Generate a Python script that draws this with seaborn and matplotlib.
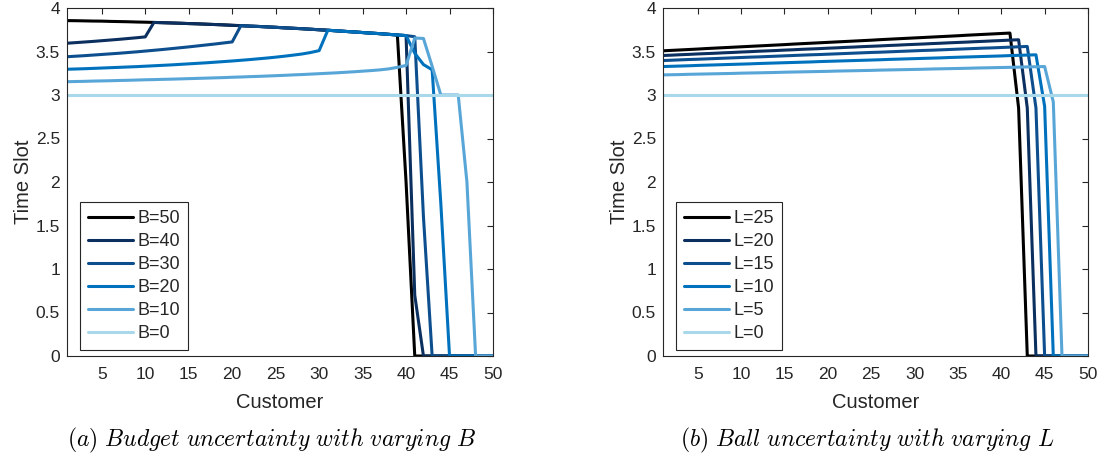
import numpy as np
import pandas as pd
import matplotlib
matplotlib.use("Agg")
import matplotlib.pyplot as plt
import seaborn as sns

customers = list(range(1, 51))

# ---------------- (a) Budget uncertainty ----------------
budget_labels = ["B=50", "B=40", "B=30", "B=20", "B=10", "B=0"]
b50 = [3.855, 3.854, 3.852, 3.850, 3.849, 3.846, 3.844, 3.842, 3.839, 3.837,
       3.834, 3.831, 3.828, 3.825, 3.821, 3.818, 3.814, 3.810, 3.806, 3.801,
       3.797, 3.792, 3.788, 3.783, 3.778, 3.772, 3.767, 3.762, 3.756, 3.750,
       3.744, 3.738, 3.731, 3.725, 3.718, 3.711, 3.705, 3.697, 3.690, 2.000,
       0, 0, 0, 0, 0, 0, 0, 0, 0, 0]
b40 = [3.595, 3.602, 3.609, 3.616, 3.624, 3.632, 3.640, 3.649, 3.658, 3.668,
       3.834, 3.831, 3.828, 3.825, 3.821, 3.818, 3.814, 3.810, 3.806, 3.801,
       3.797, 3.792, 3.788, 3.783, 3.778, 3.772, 3.767, 3.762, 3.756, 3.750,
       3.744, 3.738, 3.731, 3.725, 3.718, 3.711, 3.705, 3.697, 3.690, 3.683,
       0.700, 0, 0, 0, 0, 0, 0, 0, 0, 0]
b30 = [3.440, 3.446, 3.452, 3.459, 3.466, 3.473, 3.480, 3.488, 3.496, 3.505,
       3.514, 3.523, 3.533, 3.543, 3.553, 3.564, 3.575, 3.586, 3.598, 3.610,
       3.797, 3.792, 3.788, 3.783, 3.778, 3.772, 3.767, 3.762, 3.756, 3.750,
       3.744, 3.738, 3.731, 3.725, 3.718, 3.711, 3.705, 3.697, 3.690, 3.683,
       3.670, 1.600, 0, 0, 0, 0, 0, 0, 0, 0]
b20 = [3.296, 3.299, 3.302, 3.306, 3.310, 3.314, 3.318, 3.322, 3.326, 3.331,
       3.336, 3.341, 3.346, 3.352, 3.358, 3.364, 3.370, 3.377, 3.384, 3.391,
       3.399, 3.407, 3.416, 3.425, 3.435, 3.446, 3.458, 3.471, 3.488, 3.510,
       3.744, 3.738, 3.731, 3.725, 3.718, 3.711, 3.705, 3.697, 3.690, 3.683,
       3.480, 3.350, 3.290, 1.750, 0, 0, 0, 0, 0, 0]
b10 = [3.153, 3.155, 3.157, 3.160, 3.162, 3.164, 3.167, 3.169, 3.172, 3.175,
       3.177, 3.180, 3.182, 3.185, 3.188, 3.191, 3.194, 3.197, 3.200, 3.204,
       3.207, 3.211, 3.214, 3.218, 3.222, 3.226, 3.231, 3.235, 3.240, 3.245,
       3.250, 3.255, 3.261, 3.267, 3.274, 3.281, 3.289, 3.300, 3.318, 3.340,
       3.655, 3.650, 3.330, 3.000, 3.000, 3.000, 2.000, 0, 0, 0]
b0 = [3.0, 3.0, 3.0, 3.0, 3.0, 3.0, 3.0, 3.0, 3.0, 3.0,
      3.0, 3.0, 3.0, 3.0, 3.0, 3.0, 3.0, 3.0, 3.0, 3.0,
      3.0, 3.0, 3.0, 3.0, 3.0, 3.0, 3.0, 3.0, 3.0, 3.0,
      3.0, 3.0, 3.0, 3.0, 3.0, 3.0, 3.0, 3.0, 3.0, 3.0,
      3.0, 3.0, 3.0, 3.0, 3.0, 3.0, 3.0, 3.0, 3.0, 3.0]

# ---------------- (b) Ball uncertainty ----------------
ball_labels = ["L=25", "L=20", "L=15", "L=10", "L=5", "L=0"]
l25 = [3.508, 3.513, 3.518, 3.523, 3.528, 3.534, 3.539, 3.544, 3.549, 3.554,
       3.559, 3.564, 3.569, 3.574, 3.579, 3.585, 3.590, 3.595, 3.600, 3.605,
       3.610, 3.615, 3.620, 3.625, 3.630, 3.636, 3.641, 3.646, 3.651, 3.656,
       3.661, 3.666, 3.671, 3.676, 3.681, 3.687, 3.692, 3.697, 3.702, 3.707,
       3.712, 2.850, 0, 0, 0, 0, 0, 0, 0, 0]
l20 = [3.454, 3.458, 3.463, 3.467, 3.472, 3.476, 3.480, 3.485, 3.489, 3.494,
       3.498, 3.503, 3.507, 3.511, 3.516, 3.520, 3.525, 3.529, 3.533, 3.538,
       3.542, 3.547, 3.551, 3.556, 3.560, 3.564, 3.569, 3.573, 3.578, 3.582,
       3.586, 3.591, 3.595, 3.600, 3.604, 3.608, 3.613, 3.617, 3.622, 3.626,
       3.631, 3.635, 2.850, 0, 0, 0, 0, 0, 0, 0]
l15 = [3.396, 3.400, 3.404, 3.408, 3.411, 3.415, 3.419, 3.423, 3.427, 3.431,
       3.435, 3.438, 3.442, 3.446, 3.450, 3.454, 3.458, 3.462, 3.465, 3.469,
       3.473, 3.477, 3.481, 3.485, 3.489, 3.492, 3.496, 3.500, 3.504, 3.508,
       3.512, 3.515, 3.519, 3.523, 3.527, 3.531, 3.535, 3.539, 3.542, 3.546,
       3.550, 3.554, 3.558, 2.850, 0, 0, 0, 0, 0, 0]
l10 = [3.327, 3.330, 3.333, 3.336, 3.340, 3.343, 3.346, 3.349, 3.352, 3.355,
       3.358, 3.362, 3.365, 3.368, 3.371, 3.374, 3.377, 3.380, 3.384, 3.387,
       3.390, 3.393, 3.396, 3.399, 3.402, 3.405, 3.409, 3.412, 3.415, 3.418,
       3.421, 3.424, 3.427, 3.431, 3.434, 3.437, 3.440, 3.443, 3.446, 3.449,
       3.453, 3.456, 3.459, 3.462, 2.870, 0, 0, 0, 0, 0]
l5 = [3.231, 3.233, 3.235, 3.238, 3.240, 3.242, 3.244, 3.246, 3.248, 3.251,
      3.253, 3.255, 3.257, 3.259, 3.262, 3.264, 3.266, 3.268, 3.270, 3.272,
      3.275, 3.277, 3.279, 3.281, 3.283, 3.286, 3.288, 3.290, 3.292, 3.294,
      3.296, 3.299, 3.301, 3.303, 3.305, 3.307, 3.310, 3.312, 3.314, 3.316,
      3.318, 3.320, 3.323, 3.325, 3.327, 2.920, 0, 0, 0, 0]
l0 = [3.0, 3.0, 3.0, 3.0, 3.0, 3.0, 3.0, 3.0, 3.0, 3.0,
      3.0, 3.0, 3.0, 3.0, 3.0, 3.0, 3.0, 3.0, 3.0, 3.0,
      3.0, 3.0, 3.0, 3.0, 3.0, 3.0, 3.0, 3.0, 3.0, 3.0,
      3.0, 3.0, 3.0, 3.0, 3.0, 3.0, 3.0, 3.0, 3.0, 3.0,
      3.0, 3.0, 3.0, 3.0, 3.0, 3.0, 3.0, 3.0, 3.0, 3.0]

x_ticks = [5, 10, 15, 20, 25, 30, 35, 40, 45, 50]
y_ticks = [0, 0.5, 1, 1.5, 2, 2.5, 3, 3.5, 4]
y_tick_labels = ["0", "0.5", "1", "1.5", "2", "2.5", "3", "3.5", "4"]

palette = ["#000000", "#0B2F5E", "#0D4F8E", "#0072BD", "#58A6D8", "#A9D8EA"]

sns.set_theme(style="white")
plt.rcParams["font.family"] = ["Liberation Sans", "DejaVu Sans"]
plt.rcParams["mathtext.fontset"] = "cm"

TXT = "#262626"
W, H = 1103, 462
fig = plt.figure(figsize=(W / 100, H / 100), dpi=100)
axL = fig.add_axes([67 / W, 1 - 356 / H, 426 / W, 348 / H])
axR = fig.add_axes([663 / W, 1 - 356 / H, 425 / W, 348 / H])


def draw(ax, labels, series, caption, cx):
    df = pd.DataFrame({
        "Customer": customers * len(series),
        "Time Slot": [v for s in series for v in s],
        "label": [lab for lab in labels for _ in customers],
    })
    sns.lineplot(data=df, x="Customer", y="Time Slot", hue="label",
                 hue_order=labels, palette=palette, linewidth=2.2,
                 estimator=None, sort=False, ax=ax)
    ax.set_xlim(1, 50)
    ax.set_ylim(0, 4)
    ax.set_xticks(x_ticks)
    ax.set_yticks(y_ticks)
    ax.set_yticklabels(y_tick_labels)
    ax.tick_params(direction="in", top=True, right=True, length=4.5,
                   width=0.8, colors=TXT, labelsize=12.5)
    ax.tick_params(axis="x", pad=8)
    ax.tick_params(axis="y", pad=5)
    for sp in ax.spines.values():
        sp.set_visible(True)
        sp.set_color(TXT)
        sp.set_linewidth(0.8)
    ax.set_xlabel("Customer", fontsize=14.5, color=TXT, labelpad=8)
    ax.set_ylabel("Time Slot", fontsize=14.5, color=TXT, labelpad=2)
    handles, labs = ax.get_legend_handles_labels()
    leg = ax.legend(handles, labs, loc="lower left", bbox_to_anchor=(0.03, 0.017),
                    borderaxespad=0, frameon=True, fancybox=False,
                    edgecolor=TXT, framealpha=1, fontsize=13,
                    handlelength=2.5, handletextpad=0.25, labelspacing=0.33,
                    borderpad=0.45)
    leg.get_frame().set_linewidth(0.8)
    for t in leg.get_texts():
        t.set_color(TXT)
    fig.text(cx / W, 1 - 440 / H, caption, ha="center", va="center",
             fontsize=17, color="black")


draw(axL, budget_labels, [b50, b40, b30, b20, b10, b0],
     r"$\mathit{(a)\ Budget\ uncertainty\ with\ varying\ B}$", 272)
draw(axR, ball_labels, [l25, l20, l15, l10, l5, l0],
     r"$\mathit{(b)\ Ball\ uncertainty\ with\ varying\ L}$", 867)

fig.savefig("out.png", dpi=100)
